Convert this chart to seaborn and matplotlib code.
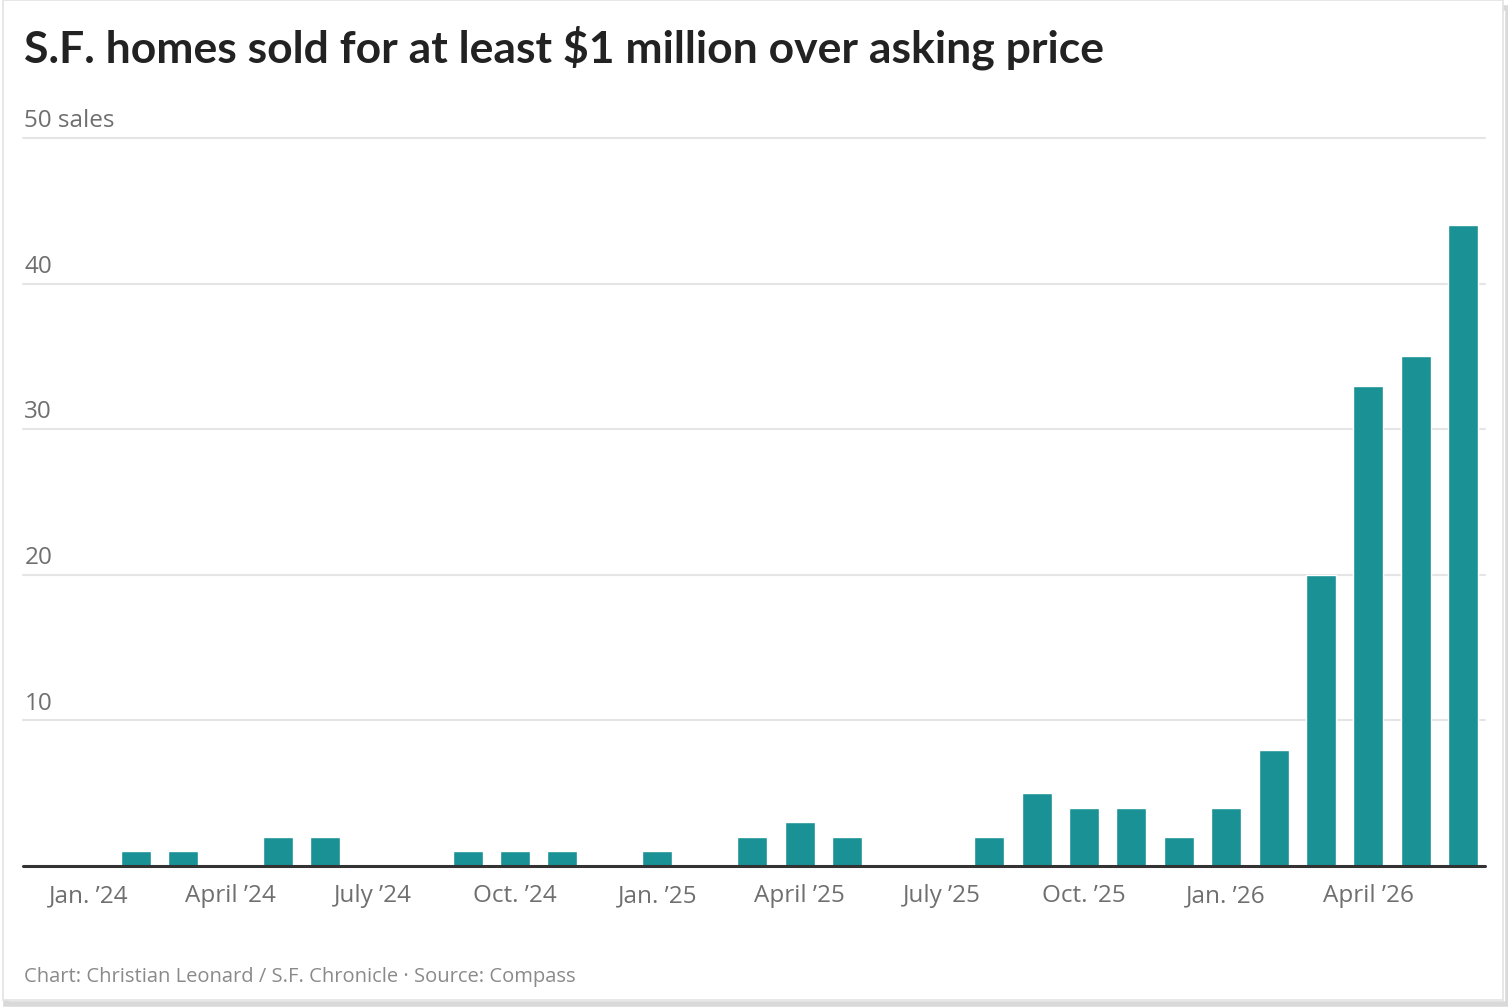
import numpy as np
import pandas as pd
import seaborn as sns
import matplotlib.pyplot as plt
from matplotlib.patches import Rectangle

# Données mensuelles (janv. 2024 -> juin 2026)
months = ["Jan. '24", "Feb. '24", "Mar. '24", "April '24", "May '24", "June '24",
          "July '24", "Aug. '24", "Sept. '24", "Oct. '24", "Nov. '24", "Dec. '24",
          "Jan. '25", "Feb. '25", "Mar. '25", "April '25", "May '25", "June '25",
          "July '25", "Aug. '25", "Sept. '25", "Oct. '25", "Nov. '25", "Dec. '25",
          "Jan. '26", "Feb. '26", "Mar. '26", "April '26", "May '26", "June '26"]
sales = [0, 1, 1, 0, 2, 2,
         0, 0, 1, 1, 1, 0,
         1, 0, 2, 3, 2, 0,
         0, 2, 5, 4, 4, 2,
         4, 8, 20, 33, 35, 44]

tick_labels = ["Jan. \u201924", "April \u201924", "July \u201924", "Oct. \u201924",
               "Jan. \u201925", "April \u201925", "July \u201925", "Oct. \u201925",
               "Jan. \u201926", "April \u201926"]
y_ticks = [10, 20, 30, 40, 50]
y_labels = ["10", "20", "30", "40", "50 sales"]

title = "S.F. homes sold for at least $1 million over asking price"
credit = "Chart: Christian Leonard / S.F. Chronicle \u00b7 Source: Compass"

df = pd.DataFrame({"month": months, "sales": sales})

sns.set_theme(style="white")
plt.rcParams['font.family'] = ['Open Sans', 'DejaVu Sans']

W, H = 1508, 1008
fig = plt.figure(figsize=(W / 100, H / 100), dpi=100)
fig.patch.set_facecolor("white")

# cadre de la carte
fig.add_artist(Rectangle((6 / W, 4 / H), 1502 / W, 1000 / H - 4 / H, transform=fig.transFigure,
                         facecolor="none", edgecolor="#d9d9d9", lw=4, zorder=0))
fig.add_artist(Rectangle((3 / W, 8 / H), 1500 / W, 1000 / H, transform=fig.transFigure,
                         facecolor="white", edgecolor="#e3e3e3", lw=1.2, zorder=0))

left, right = 23, 1485
bottom, top = 866, 138
ax = fig.add_axes([left / W, 1 - bottom / H, (right - left) / W, (bottom - top) / H])

sns.barplot(data=df, x="month", y="sales", order=months, color="#1A9195",
            width=0.633, saturation=1, ax=ax, zorder=3)

ax.set_xlim(-1.38, 29.46)
ax.set_ylim(0, 50)
ax.set_facecolor("none")
for s in ax.spines.values():
    s.set_visible(False)

# grille horizontale
for v in y_ticks:
    ax.axhline(v, color="#e5e5e5", lw=1.5, zorder=1, clip_on=False)
ax.axhline(0, color="#333333", lw=2.2, zorder=4, clip_on=False)

ax.set_yticks([])
ax.set_xlabel("")
ax.set_ylabel("")
for v, lab in zip(y_ticks, y_labels):
    ax.annotate(lab, xy=(0, v), xycoords=("axes fraction", "data"),
                xytext=(1, 3.5), textcoords="offset points",
                ha="left", va="bottom", fontsize=17.5, color="#6f6f6f")

tick_pos = [months.index(m.replace("\u2019", "'")) for m in tick_labels]
ax.set_xticks(tick_pos)
ax.set_xticklabels(tick_labels, fontsize=17.5, color="#6f6f6f")
ax.tick_params(axis="x", length=0, pad=13)

fig.text(24 / W, 1 - 48 / H, title, fontsize=32, fontweight="bold",
         color="#222222", ha="left", va="center", family=["Lato", "DejaVu Sans"])
fig.text(24 / W, 1 - 977 / H, credit, fontsize=14.5, color="#8a8a8a",
         ha="left", va="center")

fig.savefig("out.png", dpi=100, facecolor="white")
